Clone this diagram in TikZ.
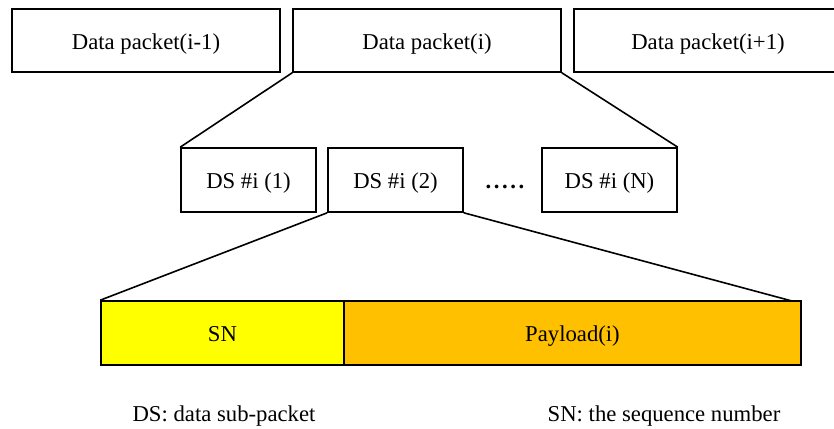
\documentclass[tikz,border=0pt]{standalone}
\usepackage{fontspec}
\setmainfont{Liberation Serif}
\definecolor{snyellow}{HTML}{FFFF00}
\definecolor{payorange}{HTML}{FFC000}
\begin{document}
\begin{tikzpicture}[x=1pt,y=-1pt,
  every node/.style={font=\fontsize{22.7}{27}\selectfont, inner sep=0pt, text height=17pt, text depth=0pt},
  box/.style={draw=black, line width=1.6pt, rectangle},
  topbox/.style={box, minimum width=268pt, minimum height=63pt},
  dsbox/.style={box, minimum width=135pt, minimum height=64pt},
  link/.style={draw=black, line width=1.6pt}]
\useasboundingbox (0,0) rectangle (834,428);
\clip (0,0) rectangle (834,428);
\fill[white] (0,0) rectangle (834,428);
% top packets
\node[topbox] (dpm) at (146,40.5) {Data packet(i-1)};
\node[topbox] (dp)  at (427,40.5) {Data packet(i)};
\node[topbox] (dpp) at (708,40.5) {Data packet(i+1)};
% data sub-packets
\node[dsbox] (ds1) at (248.5,180) {DS \#i (1)};
\node[dsbox] (ds2) at (395.5,180) {DS \#i (2)};
\node (dots) at (505,180) {\textbf{.\hspace{2.6pt}.\hspace{2.6pt}.\hspace{2.6pt}.\hspace{2.6pt}.}};
\node[dsbox] (dsn) at (609.5,180) {DS \#i (N)};
% SN and payload
\node[box, fill=snyellow, minimum width=243pt, minimum height=64pt] (sn) at (222.5,333) {SN};
\node[box, fill=payorange, minimum width=457pt, minimum height=64pt] (pl) at (572.5,333) {Payload(i)};
\coordinate (plend) at (792,301);
% connectors
\draw[link] (dp.south west) -- (ds1.north west);
\draw[link] (dp.south east) -- (dsn.north east);
\draw[link] (ds2.south west) -- (sn.north west);
\draw[link] (ds2.south east) -- (plend);
% legend
\node (leg1) at (224,413) {DS: data sub-packet};
\node (leg2) at (664,413) {SN: the sequence number};
\end{tikzpicture}
\end{document}
